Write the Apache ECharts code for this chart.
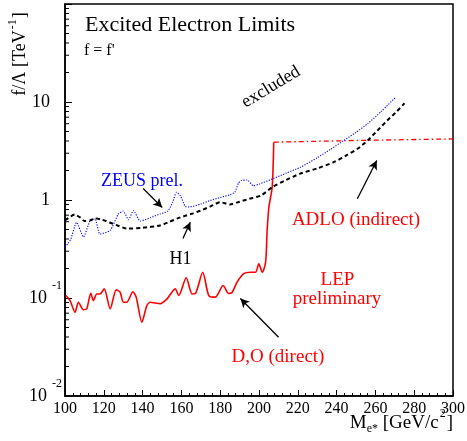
<!DOCTYPE html>
<html><head><meta charset="utf-8">
<script src="https://cdn.jsdelivr.net/npm/echarts@6/dist/echarts.min.js"></script>
<style>html,body{margin:0;padding:0;background:#fff}#c{width:467px;height:441px}</style>
</head><body><div id="c"></div>
<script>
// ---- data ----
const yMinorTicks = [0.02,0.03,0.04,0.05,0.06,0.07,0.08,0.09,
  0.2,0.3,0.4,0.5,0.6,0.7,0.8,0.9,
  2,3,4,5,6,7,8,9,
  20,30,40,50,60,70,80,90];

const h1Mass  = [100,103,105,108,110,113,115.5,119,123,127,132,140,149,154,158,162,166,170,175,180,185,190,195,201,207,214,221,230,238.5,245,251,256,261,266,271,275];
const h1Limit = [0.62,0.68,0.71,0.66,0.61,0.62,0.65,0.63,0.59,0.55,0.51,0.52,0.55,0.60,0.65,0.69,0.73,0.78,0.86,0.95,0.90,0.96,1.03,1.11,1.36,1.6,1.85,2.1,2.43,2.85,3.35,4.05,5.1,6.45,8.0,9.7];

const zeusMass  = [100,101.5,103,106,109.5,113,115.5,118,123.3,127.5,130,132.7,135.3,138.8,144,149,153,155.5,157.5,159.5,162,164,170,175,180,185,187.5,189.5,191,194,197,200,207.5,214,221.4,230,237,243.7,250,256,263,270.5];
const zeusLimit = [0.33,0.36,0.40,0.59,0.42,0.62,0.64,0.45,0.49,0.72,0.77,0.63,0.78,0.61,0.66,0.72,0.77,0.95,1.2,1.1,0.86,0.85,0.91,0.99,1.06,1.13,1.2,1.5,1.58,1.6,1.4,1.45,1.66,1.88,2.16,2.7,3.3,4.05,4.9,6.0,8.0,11.2];

const lepMass  = [100.5,102.6,105.2,106.9,109.5,111.2,113.3,114.6,116.4,118.1,120.2,123.3,126.4,128.4,130.1,131.9,135,136.7,139.6,142.2,143.9,149.1,152.6,156.8,158.6,162.5,165.5,167.2,171,174.1,177.5,181.5,184.4,186.1,188.7,192.1,195.6,198.2,199.9,201.7,203.4,204.2,205.1,206.8,207.6];
const lepLimit = [0.106,0.094,0.0716,0.0906,0.0759,0.0776,0.112,0.094,0.110,0.110,0.124,0.0776,0.121,0.115,0.0906,0.0906,0.116,0.102,0.0566,0.0838,0.0906,0.0873,0.098,0.124,0.106,0.161,0.110,0.111,0.183,0.106,0.102,0.134,0.111,0.114,0.145,0.177,0.183,0.183,0.223,0.183,0.232,0.489,0.845,1.35,3.89];

const adloMass  = [207.6,250,300];
const adloLimit = [3.89,4.05,4.2];

// arrows: [fromMass, fromLimit, toMass, toLimit]
const arrowZeus = [140.3,1.31,150.1,0.84];
const arrowH1   = [160.8,0.405,164.6,0.593];
const arrowAdlo = [250.7,1.03,260.7,2.53];
const arrowDO   = [210.1,0.0398,190.4,0.0988];

const SERIF = '"Liberation Serif","Times New Roman",serif';
const pair = (xs, ys) => xs.map((x, i) => [x, ys[i]]);
const arrow = a => [{coord:[a[0],a[1]]},{coord:[a[2],a[3]]}];

const chart = echarts.init(document.getElementById('c'), null, {renderer:'canvas'});
const option = {
  animation:false,
  backgroundColor:'#fff',
  grid:{left:65,right:14,top:4,bottom:45,show:true,borderColor:'#000',borderWidth:1.5,outerBoundsMode:'none',containLabel:false},
  xAxis:{type:'value',min:100,max:300,interval:20,
    axisLine:{lineStyle:{color:'#000',width:1.5}},
    axisTick:{inside:true,length:6,lineStyle:{color:'#000',width:1}},
    minorTick:{show:true,splitNumber:5,length:3,lineStyle:{color:'#000',width:1}},
    splitLine:{show:false},
    axisLabel:{color:'#000',fontFamily:SERIF,fontSize:16,margin:5,showMinLabel:true,showMaxLabel:true}
  },
  yAxis:{type:'log',logBase:10,min:0.01,max:100,
    axisLine:{lineStyle:{color:'#000',width:1.5}},
    axisTick:{inside:true,length:7,lineStyle:{color:'#000',width:1}},
    splitLine:{show:false},
    axisLabel:{margin:3,showMinLabel:true,showMaxLabel:true,
      formatter:function(v){
        const e = Math.round(Math.log10(v));
        if (e >= 2) return '';
        if (e === 1) return '{p|10}';
        if (e === 0) return '{p|1}';
        return '{b|10}{s|' + e + '}';
      },
      rich:{
        p:{fontFamily:SERIF,fontSize:18,color:'#000',padding:[0,12,0,0]},
        b:{fontFamily:SERIF,fontSize:18,color:'#000',verticalAlign:'middle',lineHeight:18},
        s:{fontFamily:SERIF,fontSize:12,color:'#000',verticalAlign:'middle',lineHeight:12,padding:[0,0,24,5]}
      }
    }
  },
  series:[
    {type:'custom',name:'yminor',silent:true,clip:false,
      data:yMinorTicks.map(v=>[100,v]),
      renderItem:function(params,api){
        const p = api.coord([api.value(0),api.value(1)]);
        return {type:'line',shape:{x1:p[0],y1:p[1],x2:p[0]+4,y2:p[1]},style:{stroke:'#000',lineWidth:1}};
      }, z:5},
    {type:'line',name:'LEP D,O',data:pair(lepMass,lepLimit),showSymbol:false,smooth:0.25,
      lineStyle:{color:'#ff0000',width:1.6},itemStyle:{color:'#ff0000'},z:3},
    {type:'line',name:'ADLO',data:pair(adloMass,adloLimit),showSymbol:false,
      lineStyle:{color:'#ff0000',width:1.3,type:[5,3,1.5,3]},z:3},
    {type:'line',name:'ZEUS',data:pair(zeusMass,zeusLimit),showSymbol:false,smooth:0.2,
      lineStyle:{color:'#0000ff',width:1.1,type:[1.2,1.4]},z:4},
    {type:'line',name:'H1',data:pair(h1Mass,h1Limit),showSymbol:false,smooth:0.2,
      lineStyle:{color:'#000',width:2,type:[4,3]},z:4,
      markLine:{silent:true,symbol:['none','arrow'],symbolSize:[7,9],
        lineStyle:{color:'#000',width:1.3,type:'solid'},label:{show:false},
        data:[arrow(arrowZeus),arrow(arrowH1),arrow(arrowAdlo),arrow(arrowDO)]}}
  ],
  graphic:[
    {type:'text',x:85,y:25,style:{text:'Excited Electron Limits',font:'22px '+SERIF,fill:'#000',verticalAlign:'middle'}},
    {type:'text',x:84,y:51,style:{text:"f = f'",font:'16px '+SERIF,fill:'#000',verticalAlign:'middle'}},
    {type:'text',x:271,y:87,rotation:31*Math.PI/180,style:{text:'excluded',font:'18px '+SERIF,fill:'#000',align:'center',verticalAlign:'middle'}},
    {type:'text',x:142,y:181,style:{text:'ZEUS prel.',font:'18px '+SERIF,fill:'#0000ff',align:'center',verticalAlign:'middle'}},
    {type:'text',x:180.5,y:259,style:{text:'H1',font:'18px '+SERIF,fill:'#000',align:'center',verticalAlign:'middle'}},
    {type:'text',x:337.5,y:280,style:{text:'LEP',font:'19px '+SERIF,fill:'#ff0000',align:'center',verticalAlign:'middle'}},
    {type:'text',x:337,y:299,style:{text:'preliminary',font:'19px '+SERIF,fill:'#ff0000',align:'center',verticalAlign:'middle'}},
    {type:'text',x:356,y:220,style:{text:'ADLO (indirect)',font:'19px '+SERIF,fill:'#ff0000',align:'center',verticalAlign:'middle'}},
    {type:'text',x:278,y:357,style:{text:'D,O (direct)',font:'19px '+SERIF,fill:'#ff0000',align:'center',verticalAlign:'middle'}},
    {type:'text',x:20,y:54,rotation:Math.PI/2,style:{text:'{m|f/Λ [TeV}{s|-1}{m|]}',fill:'#000',align:'center',verticalAlign:'middle',
      rich:{m:{fontFamily:SERIF,fontSize:18,verticalAlign:'middle',lineHeight:18},
            s:{fontFamily:SERIF,fontSize:12,verticalAlign:'middle',lineHeight:12,padding:[0,1,14,1]}}}},
    {type:'text',x:453,y:423,style:{text:'{m|M}{sub|e*}{m| [GeV/c}{sup|2}{m|]}',fill:'#000',align:'right',verticalAlign:'middle',
      rich:{m:{fontFamily:SERIF,fontSize:19,verticalAlign:'middle',lineHeight:19},
            sub:{fontFamily:SERIF,fontSize:12,verticalAlign:'middle',lineHeight:12,padding:[12,0,0,0]},
            sup:{fontFamily:SERIF,fontSize:12,verticalAlign:'middle',lineHeight:12,padding:[0,1,18,1]}}}}
  ]
};
chart.setOption(option);
</script></body></html>
